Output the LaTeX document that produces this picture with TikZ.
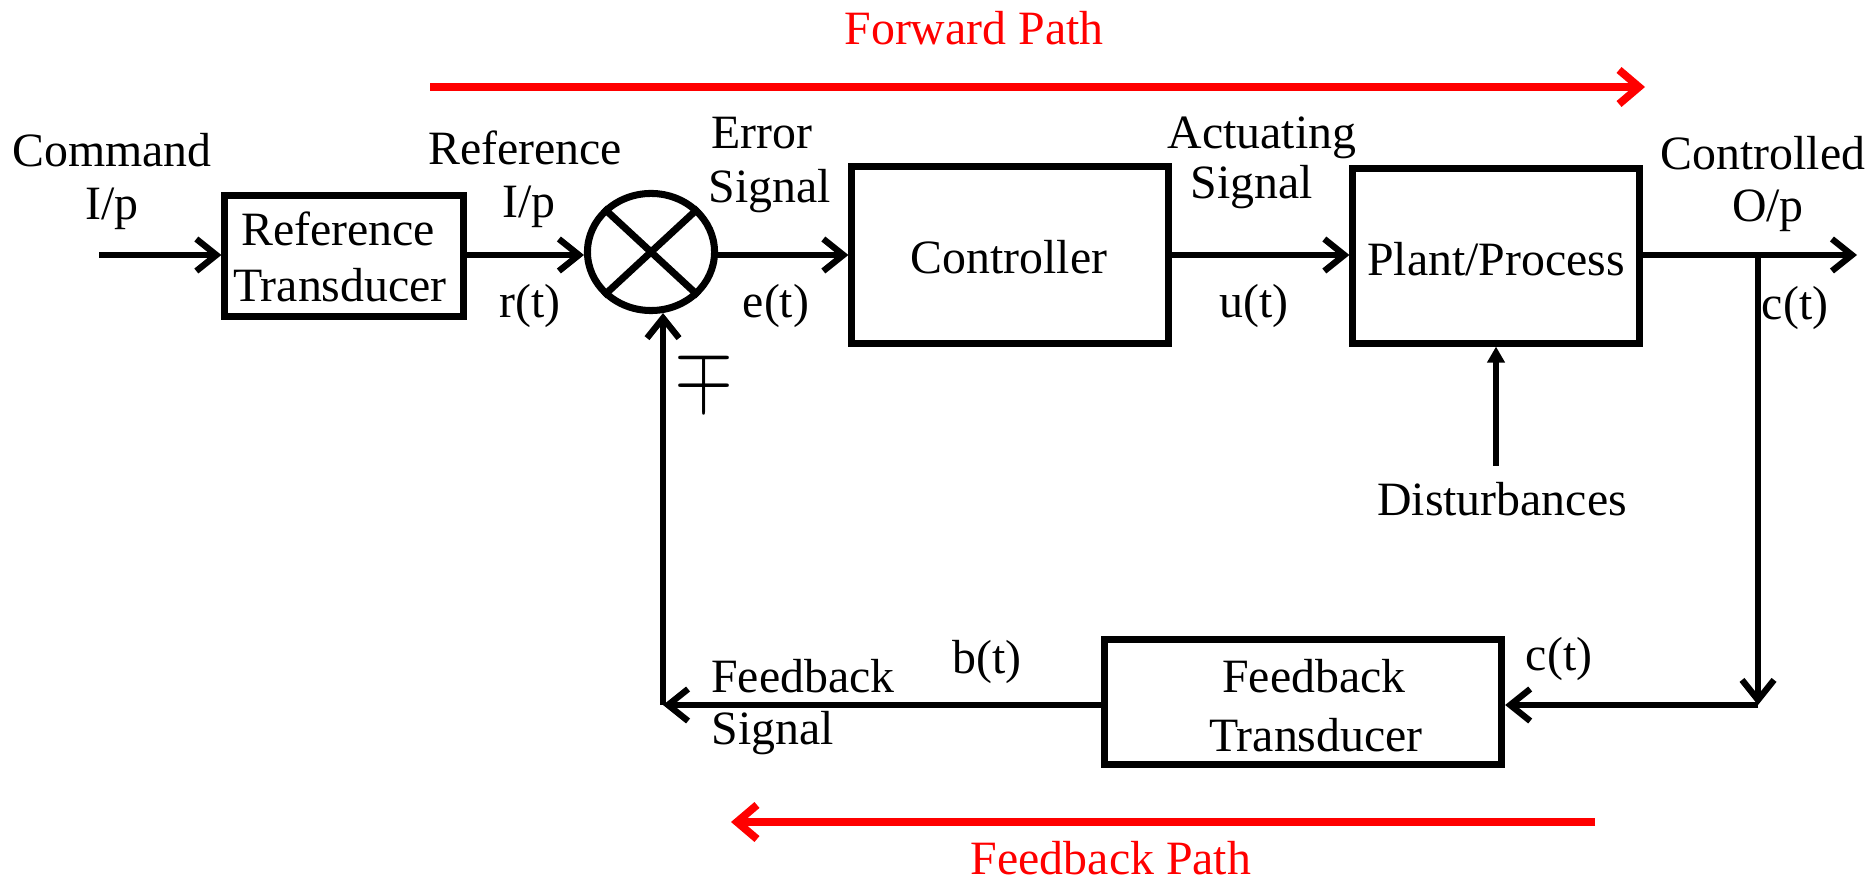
\documentclass[tikz,border=0pt]{standalone}
\usepackage{fontspec}
\usepackage{graphicx}
\setmainfont{Liberation Serif}
\usetikzlibrary{arrows.meta,shapes.geometric}
\begin{document}
\begin{tikzpicture}[x=0.01cm,y=-0.01cm,
  every node/.style={font=\fontsize{13.6}{16}\selectfont, inner sep=0pt},
  blk/.style={draw, line width=2pt, rectangle},
  sumj/.style={draw, line width=2pt, ellipse, minimum width=1.27cm, minimum height=1.17cm},
  conn/.style={line width=1.8pt, -{Straight Barb[length=2mm,width=3.2mm,line width=1.8pt]}},
  distconn/.style={line width=1.8pt, -{Triangle[length=1.6mm,width=1.7mm]}},
  rarrow/.style={draw=red, line width=2.2pt, -{Straight Barb[length=2mm,width=3.4mm,line width=2.2pt]}},
  rlbl/.style={text=red}]
\useasboundingbox (0,0) rectangle (1873,880);

% blocks
\node[blk, minimum width=2.38cm, minimum height=1.2cm] (rtb) at (344,256) {};
\node[sumj] (sum) at (651,252) {};
\node[blk, minimum width=3.16cm, minimum height=1.76cm] (ctrl) at (1010,255) {};
\node[blk, minimum width=2.86cm, minimum height=1.74cm] (plant) at (1496,256) {};
\node[blk, minimum width=3.97cm, minimum height=1.25cm] (ft) at (1303,702) {};

\draw[line width=2pt] (sum.north west) -- (sum.south east) (sum.north east) -- (sum.south west);

% block texts
\node (rt1) at (338,229) {Reference};
\node (rt2) at (340,285) {Transducer};
\node (ctxt) at (1009,257) {Controller};
\node (ptxt) at (1496,259) {Plant/Process};
\node (ft1) at (1314,676) {Feedback};
\node (ft2) at (1316,735) {Transducer};

% coordinates
\coordinate (in) at (99,255);
\coordinate (out) at (1857,255);
\coordinate (br) at (1758,255);
\coordinate (brd) at (1758,705);
\coordinate (fbl) at (663,705);
\coordinate (dist) at (1496,466);

% connectors
\draw[conn] (in) -- (rtb.west |- in);
\draw[conn] (rtb.east |- in) -- (sum.west |- in);
\draw[conn] (sum.east |- in) -- (ctrl.west |- in);
\draw[conn] (ctrl.east |- in) -- (plant.west |- in);
\draw[conn] (plant.east |- in) -- (out);
\draw[conn] (br) -- (brd);
\draw[conn] (brd) -- (ft.east |- brd);
\draw[conn] (ft.west |- brd) -- (fbl);
\draw[conn] (fbl) -- (fbl |- sum.-79);
\draw[distconn] (dist) -- (plant.south);

% red path arrows
\coordinate (fps) at (430,87);
\coordinate (fpe) at (1645,87);
\coordinate (bps) at (1595,822);
\coordinate (bpe) at (731,822);
\draw[rarrow] (fps) -- (fpe);
\draw[rarrow] (bps) -- (bpe);
\node[rlbl] (fwd) at (974,28) {Forward Path};
\node[rlbl] (fbp) at (1111,858) {Feedback Path};

% signal labels
\node (cmd1) at (112,150) {Command};
\node (cmd2) at (112,209) {I/p};
\node (ref1) at (525,148) {Reference};
\node (ref2) at (529,207) {I/p};
\node (rtl) at (530,306) {r(t)};
\node (err1) at (762,133) {Error};
\node (err2) at (770,191) {Signal};
\node (et) at (776,306) {e(t)};
\node (act1) at (1262,138) {Actuating};
\node (act2) at (1252,187) {Signal};
\node (ut) at (1254,306) {u(t)};
\node (co1) at (1763,153) {Controlled};
\node (co2) at (1768,211) {O/p};
\node (ct1) at (1795,308) {c(t)};
\node (dtxt) at (1502,499) {Disturbances};
\node (mp) at (704,378) {\scalebox{1.5}[1.75]{$\mp$}};
\node (bt) at (987,662) {b(t)};
\node (ct2) at (1559,659) {c(t)};
\node (fs1) at (803,676) {Feedback};
\node (fs2) at (773,733) {Signal};
\end{tikzpicture}
\end{document}
